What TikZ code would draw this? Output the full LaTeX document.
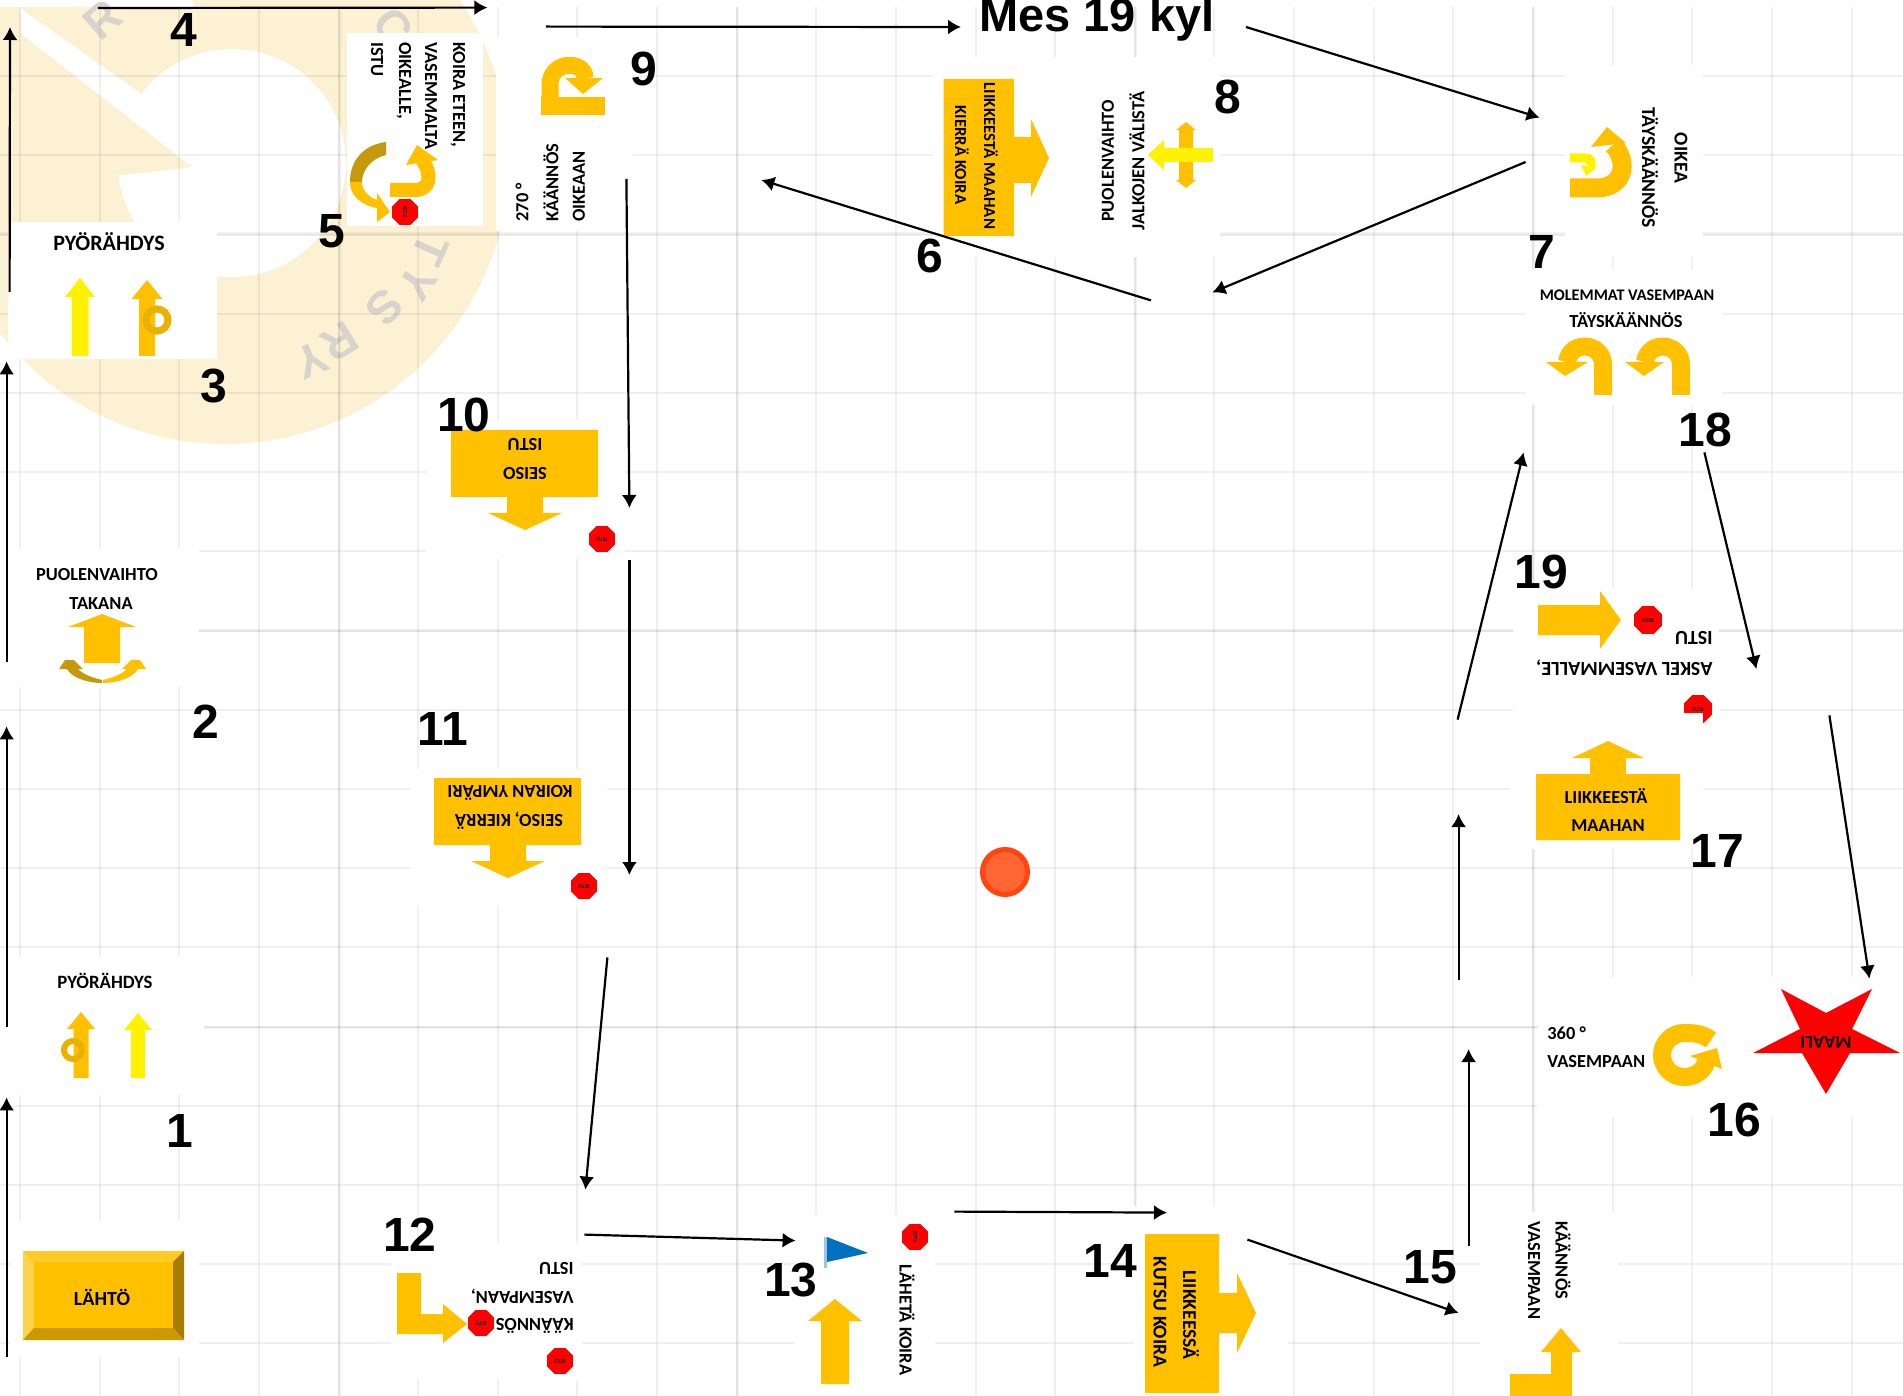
\documentclass[tikz,border=0pt]{standalone}
\usepackage{fontspec}
\setmainfont{Carlito}
\newfontfamily\numfont{Liberation Sans}
\usetikzlibrary{shapes,shapes.geometric,arrows,arrows.meta}
\definecolor{amber}{HTML}{FFC000}
\definecolor{darkamber}{HTML}{C49A0C}
\definecolor{pale}{HTML}{FCF1D3}
\definecolor{stamp}{HTML}{D8D4CC}
\definecolor{dotfill}{HTML}{FF6633}
\definecolor{dotline}{HTML}{FF4510}
\definecolor{flag}{HTML}{0070C0}
\tikzstyle{panel} = [rectangle, fill=white, inner sep=0, minimum width=#1]
\tikzstyle{caption} = [inner sep=0, font=\bfseries\fontsize{#1}{#1}\selectfont]
\tikzset{caption/.default=9.2}
\tikzstyle{numeral} = [inner sep=0, font=\numfont\bfseries\fontsize{24}{24}\selectfont]
\tikzstyle{stampmark} = [inner sep=0, text=stamp, font=\numfont\bfseries\fontsize{23}{23}\selectfont]
\tikzstyle{arrow} = [draw, -{Latex[length=6.5pt,width=7.5pt]}, line width=1.1pt]
\tikzstyle{stopsign} = [regular polygon, regular polygon sides=8, fill=red, inner sep=0,
    minimum size=14pt, font=\bfseries\fontsize{3}{3}\selectfont]
\tikzstyle{gridline} = [black, opacity=0.06, line width=1pt]
\tikzstyle{gridheavy} = [black, opacity=0.05, line width=1.5pt]
\tikzstyle{uturn} = [amber, line width=9pt]
\begin{document}
\begin{tikzpicture}[x=0.5pt,y=-0.5pt]
    \useasboundingbox (0,0) rectangle (1903,1396);

    % Watermark
    \fill [pale] (225,160) circle [radius=142pt];
    \fill [white] (232,163) circle [radius=57pt];
    \fill [white] (20,8) -- (143,95) -- (192,167) -- (22,35) -- cycle;
    \fill [pale] (22,35) -- (192,167) -- (123,175) -- (60,175) -- cycle;
    \fill [white] (0,0) rectangle (193,7);
    \node [stampmark, rotate=41] (markr) at (103,20) {R};
    \node [stampmark, rotate=-52] (markc) at (393,27) {C};
    \node [stampmark, rotate=-114] (markt) at (430,250) {T};
    \node [stampmark, rotate=-123] (marky) at (417,283) {Y};
    \node [stampmark, rotate=-133] (marks) at (385,308) {S};
    \node [stampmark, rotate=-148] (markrr) at (340,342) {R};
    \node [stampmark, rotate=-157] (markyy) at (312,360) {Y};

    % Grid
    \foreach \i in {0,...,23}
        \draw [gridline] ({20+79.63*\i},7) -- ({20+79.63*\i},1396);
    \foreach \i in {1,...,17}
        \draw [gridline] (0,{-3+79.2*\i}) -- (1903,{-3+79.2*\i});
    \foreach \i in {339,737,1135,1533}
        \draw [gridheavy] (\i,7) -- (\i,1396);
    \foreach \i in {234,630,1027}
        \draw [gridheavy] (0,\i) -- (1903,\i);

    % Place panels
    \node [panel=94.5pt, minimum height=68.5pt] (start) at (104.5,1288.5) {};
    \node [panel=102pt, minimum height=69.5pt] (spin1) at (102,1025.5) {};
    \node [panel=99.5pt, minimum height=69.5pt] (swap2) at (99.5,617.5) {};
    \node [panel=104.5pt, minimum height=68.5pt] (spin3) at (112.5,290.5) {};
    \node [panel=68pt, minimum height=96.5pt] (ahead5) at (415,129.5) {};
    \node [panel=68.5pt, minimum height=97pt] (turn9) at (564.5,134) {};
    \node [panel=73pt, minimum height=100pt] (down6) at (1006,157) {};
    \node [panel=70.5pt, minimum height=100pt] (swap8) at (1149.5,157) {};
    \node [panel=69pt, minimum height=96pt] (uturn7) at (1634,161) {};
    \node [panel=98pt, minimum height=67.5pt] (both18) at (1624,337.5) {};
    \node [panel=103pt, minimum height=66pt] (step19) at (1616,654) {};
    \node [panel=182.5pt, minimum height=70pt] (end16) at (1720.5,1047) {};
    \node [panel=69pt, minimum height=92pt] (turn15) at (1549,1304) {};
    \node [panel=77pt, minimum height=95pt] (call14) at (1211,1301) {};
    \node [panel=70pt, minimum height=90.5pt] (send13) at (865,1305.5) {};
    \node [panel=95.5pt, minimum height=68.5pt] (turn12) at (486.5,1311.5) {};
    \node [panel=98pt, minimum height=68.5pt] (stand11) at (509,837.5) {};
    \node [panel=99.5pt, minimum height=69.5pt] (stand10) at (525.5,489.5) {};
    \node [stopsign, minimum size=15pt, rotate=180] (stop19b) at (1698,709) {ISTU};
    \node [panel=96.5pt, minimum height=68pt] (down17) at (1606.5,781) {};
    \node [circle, fill=dotfill, draw=dotline, line width=2.5pt, inner sep=0,
        minimum size=22.5pt] (dot) at (1005,872) {};

    % Start
    \fill [amber] (23,1251) rectangle (184,1340);
    \fill [amber!70!white] (23,1251) -- (34,1262) -- (34,1328) -- (23,1340) -- cycle;
    \fill [amber!85!white] (23,1251) -- (184,1251) -- (173,1262) -- (34,1262) -- cycle;
    \fill [amber!65!black] (184,1251) -- (184,1340) -- (173,1328) -- (173,1262) -- cycle;
    \fill [amber!80!black] (23,1340) -- (184,1340) -- (173,1328) -- (34,1328) -- cycle;
    \node [caption=10] (cap0) at (102,1297) {LÄHTÖ};

    % 1
    \node [caption=9.4] (cap1) at (105,981) {PYÖRÄHDYS};
    \fill [amber] (73.5,1078) -- (73.5,1029) -- (67,1029) -- (81,1012) -- (95,1029) -- (88.5,1029) -- (88.5,1078) -- cycle;
    \draw [amber!92!black, line width=3pt] (73,1050) circle [radius=4.5pt];
    \fill [yellow] (131,1078) -- (131,1030) -- (124,1030) -- (138,1013) -- (152,1030) -- (145,1030) -- (145,1078) -- cycle;

    % 2
    \node [caption] (cap2a) at (97,575) {PUOLENVAIHTO};
    \node [caption] (cap2b) at (101,604) {TAKANA};
    \fill [amber] (84,663) -- (84,627) -- (68,627) -- (102,614) -- (136,627) -- (120,627) -- (120,663) -- cycle;
    \fill [darkamber] (65,660) -- (74,660) -- (83,669) -- (78,669) .. controls (84,675) and (94,678) .. (102,680)
        -- (102,683) .. controls (88,683) and (72,678) .. (67,669) -- (59,669) -- cycle;
    \fill [amber] (140,660) -- (131,660) -- (122,669) -- (127,669) .. controls (121,675) and (111,678) .. (103,680)
        -- (103,683) .. controls (117,683) and (133,678) .. (138,669) -- (146,669) -- cycle;

    % 3
    \node [caption=11] (cap3) at (109,242) {PYÖRÄHDYS};
    \fill [yellow] (71.5,356) -- (71.5,297) -- (65,297) -- (80,278) -- (95,297) -- (88.5,297) -- (88.5,356) -- cycle;
    \fill [amber] (139,356) -- (139,299) -- (131.5,299) -- (147,280) -- (162.5,299) -- (155,299) -- (155,356) -- cycle;
    \draw [amber!92!black, line width=3.5pt] (157,320) circle [radius=5.5pt];

    % 5
    \node [caption, rotate=-90, anchor=west] (cap5a) at (458,42) {KOIRA ETEEN,};
    \node [caption, rotate=-90, anchor=west] (cap5b) at (431,42) {VASEMMALTA};
    \node [caption, rotate=-90, anchor=west] (cap5c) at (404,42) {OIKEALLE,};
    \node [caption, rotate=-90, anchor=west] (cap5d) at (377,42) {ISTU};
    \fill [darkamber] (386,142) .. controls (362,145) and (350,162) .. (350,182) -- (362,182)
        .. controls (362,170) and (372,158) .. (386,155) -- cycle;
    \fill [amber] (350,182) .. controls (350,195) and (360,205) .. (377,208) -- (377,222) -- (390,212) -- (377,193)
        -- (377,200) .. controls (368,197) and (362,190) .. (362,182) -- cycle;
    \draw [amber, line width=7pt] (390,190) -- (415,190) .. controls (430,190) and (433,175) .. (422,160);
    \fill [amber] (417,145) -- (406,165) -- (438,160) -- cycle;
    \node [stopsign, minimum size=14pt, rotate=-90] (stop5) at (405,212) {ISTU};

    % 9
    \fill [amber] (541,97) rectangle (605,115);
    \draw [amber, line width=8.5pt] (550,115) -- (550,85) .. controls (550,60) and (585,60) .. (585,78);
    \fill [amber] (565,78) -- (603,78) -- (583,94) -- cycle;
    \node [caption, rotate=90, anchor=west] (cap9a) at (522,222) {270 °};
    \node [caption, rotate=90, anchor=west] (cap9b) at (551,222) {KÄÄNNÖS};
    \node [caption, rotate=90, anchor=west] (cap9c) at (579,222) {OIKEAAN};

    % 6
    \fill [amber] (943.5,79) -- (1014,79) -- (1014,137) -- (1031,137) -- (1031,119) -- (1049,158) -- (1031,197)
        -- (1031,183) -- (1014,183) -- (1014,236) -- (943.5,236) -- cycle;
    \node [caption=8.4, rotate=-90] (cap6a) at (991,156) {LIIKKEESTÄ MAAHAN};
    \node [caption=8.4, rotate=-90] (cap6b) at (962,155) {KIERRÄ KOIRA};

    % 8
    \node [caption, rotate=90] (cap8a) at (1108,161) {PUOLENVAIHTO};
    \node [caption, rotate=90] (cap8b) at (1137,161) {JALKOJEN VÄLISTÄ};
    \fill [amber] (1179,130) -- (1176,130) -- (1186,122) -- (1196,130) -- (1193,130) -- (1193,180) -- (1196,180)
        -- (1186,188) -- (1176,180) -- (1179,180) -- cycle;
    \fill [yellow] (1213,148) -- (1164,148) -- (1164,140) -- (1148,155) -- (1164,170) -- (1164,162) -- (1213,162) -- cycle;

    % 7
    \node [caption=9.8, rotate=-90] (cap7a) at (1681,158) {OIKEA};
    \node [caption=9.8, rotate=-90] (cap7b) at (1650,168) {TÄYSKÄÄNNÖS};
    \draw [amber, line width=9.5pt] (1570,188) -- (1596,188) .. controls (1626,188) and (1628,160) .. (1613,145);
    \fill [amber] (1607,127) -- (1591,147) -- (1626,143) -- cycle;
    \draw [yellow, line width=4.5pt] (1570,158) -- (1585,158) .. controls (1592,158) and (1592,163) .. (1590,166);
    \fill [yellow] (1581,165) -- (1597,167) -- (1586,176) -- cycle;

    % 18
    \node [caption=8.1] (cap18a) at (1627,295) {MOLEMMAT VASEMPAAN};
    \node [caption] (cap18b) at (1626,320) {TÄYSKÄÄNNÖS};
    \draw [uturn] (1603,395) -- (1603,365) .. controls (1603,342) and (1570,340) .. (1567,362);
    \fill [amber] (1546,362) -- (1588,362) -- (1565,376) -- cycle;
    \draw [uturn] (1681,395) -- (1681,365) .. controls (1681,342) and (1648,340) .. (1645,362);
    \fill [amber] (1625,362) -- (1664,362) -- (1644,376) -- cycle;

    % 19
    \fill [amber] (1538,605) -- (1600,605) -- (1600,591) -- (1621,620) -- (1600,649) -- (1600,635) -- (1538,635) -- cycle;
    \node [stopsign, minimum size=15pt, rotate=180] (stop19a) at (1648,620) {ISTU};
    \node [caption=10, rotate=180, anchor=west] (cap19a) at (1713,638) {ISTU};
    \node [caption=10, rotate=180, anchor=west] (cap19b) at (1713,668) {ASKEL VASEMMALLE,};

    % 17
    \fill [amber] (1536,840) -- (1536,774) -- (1590,774) -- (1590,758) -- (1572,758) -- (1608,741) -- (1644,758)
        -- (1626,758) -- (1626,774) -- (1680,774) -- (1680,840) -- cycle;
    \node [caption] (cap17a) at (1606,796) {LIIKKEESTÄ};
    \node [caption] (cap17b) at (1608,826) {MAAHAN};

    % 16
    \node [caption, anchor=west] (cap16a) at (1547,1033) {360 °};
    \node [caption, anchor=west] (cap16b) at (1547,1062) {VASEMPAAN};
    \draw [amber, line width=9pt] (1711,1040) .. controls (1702,1033) and (1692,1033) .. (1684,1033)
        .. controls (1672,1033) and (1662,1043) .. (1662,1055) .. controls (1662,1067) and (1672,1077) .. (1684,1077)
        .. controls (1696,1077) and (1704,1070) .. (1706,1062);
    \fill [amber] (1690,1056) -- (1717,1048) -- (1722,1069) -- cycle;
    \fill [red] (1781,989) -- (1826,1013) -- (1872,989) -- (1852,1029) -- (1900,1053) -- (1850,1053) -- (1826,1094)
        -- (1802,1053) -- (1753,1053) -- (1800,1029) -- cycle;
    \node [caption, rotate=180] (cap16c) at (1826,1042) {MAALI};

    % 15
    \node [caption, rotate=-90, anchor=west] (cap15a) at (1563,1221) {KÄÄNNÖS};
    \node [caption, rotate=-90, anchor=west] (cap15b) at (1534,1221) {VASEMPAAN};
    \fill [amber] (1510,1396) -- (1510,1374) -- (1551,1374) -- (1551,1352) -- (1541,1352) -- (1561,1328) -- (1581,1352)
        -- (1572,1352) -- (1572,1396) -- cycle;

    % 14
    \fill [amber] (1145,1234) -- (1219,1234) -- (1219,1293) -- (1237,1293) -- (1237,1273) -- (1256,1313) -- (1237,1353)
        -- (1237,1333) -- (1219,1333) -- (1219,1393) -- (1145,1393) -- cycle;
    \node [caption=9.8, rotate=-90] (cap14a) at (1191,1315) {LIIKKEESSÄ};
    \node [caption=9.8, rotate=-90] (cap14b) at (1160,1312) {KUTSU KOIRA};

    % 13
    \fill [flag!40!white] (824,1237) rectangle (827,1268);
    \fill [flag] (827,1237) -- (868,1253) -- (827,1262) -- cycle;
    \fill [amber] (821,1384) -- (821,1321) -- (808,1321) -- (835,1299) -- (862,1321) -- (849,1321) -- (849,1384) -- cycle;
    \node [stopsign, minimum size=14pt, rotate=-90] (stop13) at (915,1237) {ISTU};
    \node [caption, rotate=-90] (cap13) at (907,1320) {LÄHETÄ KOIRA};

    % 12
    \fill [amber] (397,1273) -- (421,1273) -- (421,1314) -- (443,1314) -- (443,1304) -- (467,1324) -- (443,1343)
        -- (443,1334) -- (397,1334) -- cycle;
    \node [stopsign, rotate=180] (stop12a) at (481,1323) {ISTU};
    \node [stopsign, rotate=180] (stop12b) at (560,1361) {ISTU};
    \node [caption, rotate=180, anchor=west] (cap12a) at (574,1268) {ISTU};
    \node [caption, rotate=180, anchor=west] (cap12b) at (574,1296) {VASEMPAAN,};
    \node [caption, rotate=180, anchor=west] (cap12c) at (574,1326) {KÄÄNNÖS};

    % 11
    \fill [amber] (434,778) -- (581,778) -- (581,845) -- (526,845) -- (526,861) -- (545,861) -- (508,878) -- (471,861)
        -- (490,861) -- (490,845) -- (434,845) -- cycle;
    \node [caption, rotate=180] (cap11a) at (510,793) {KOIRAN YMPÄRI};
    \node [caption, rotate=180] (cap11b) at (509,821) {SEISO, KIERRÄ};
    \node [stopsign, rotate=180] (stop11) at (584,886) {ISTU};

    % 10
    \fill [amber] (451,430) -- (598,430) -- (598,497) -- (543,497) -- (543,513) -- (562,513) -- (525,530) -- (488,513)
        -- (507,513) -- (507,497) -- (451,497) -- cycle;
    \node [caption, rotate=180] (cap10a) at (525,444) {ISTU};
    \node [caption, rotate=180] (cap10b) at (525,473) {SEISO};
    \node [stopsign, rotate=180] (stop10) at (602,539) {ISTU};

    % Numbers
    \node [numeral] (num1) at (180,1131) {1};
    \node [numeral] (num2) at (206,722) {2};
    \node [numeral] (num3) at (214,386) {3};
    \node [numeral] (num4) at (184,30) {4};
    \node [numeral] (num5) at (332,231) {5};
    \node [numeral] (num6) at (930,256) {6};
    \node [numeral] (num7) at (1542,252) {7};
    \node [numeral] (num8) at (1228,97) {8};
    \node [numeral] (num9) at (644,69) {9};
    \node [numeral] (num10) at (464,415) {10};
    \node [numeral] (num11) at (443,729) {11};
    \node [numeral] (num12) at (410,1235) {12};
    \node [numeral] (num13) at (791,1280) {13};
    \node [numeral] (num14) at (1110,1261) {14};
    \node [numeral] (num15) at (1430,1267) {15};
    \node [numeral] (num16) at (1734,1120) {16};
    \node [numeral] (num17) at (1717,851) {17};
    \node [numeral] (num18) at (1705,430) {18};
    \node [numeral] (num19) at (1541,572) {19};
    \node [numeral, font=\numfont\bfseries\fontsize{23.5}{23.5}\selectfont] (title) at (1097,19) {Mes 19 kyl};
    \coordinate (corner) at (10,27);
    \coordinate (topstart) at (98,8);

    % Draw edges
    \path [arrow] ([shift={(-3,0)}] start.south west) -- ([shift={(7,2)}] spin1.south west);
    \path [arrow] ([shift={(7,71)}] spin1.north west) -- ([shift={(7,39)}] swap2.south west);
    \path [arrow] ([shift={(7,-25)}] swap2.south west) -- ([shift={(-1,2)}] spin3.south west);
    \path [arrow] ([shift={(2,1.5)}] spin3.west) -- (corner);
    \path [arrow] (topstart) -- ([shift={(4,-25)}] ahead5.north east);
    \path [arrow] ([shift={(-18.5,-10)}] turn9.north) -- ([shift={(-18,8)}] title.west);
    \path [arrow] ([shift={(31,8)}] title.east) -- ([shift={(-25,53)}] uturn7.north west);
    \path [arrow] ([shift={(-39,1)}] uturn7.west) -- ([shift={(-8,35)}] swap8.south east);
    \path [arrow] ([shift={(1.5,43)}] swap8.south) -- ([shift={(128,46)}] turn9.east);
    \path [arrow] ([shift={(-7,45)}] turn9.east) -- ([shift={(4,18.5)}] stand10.east);
    \path [arrow] ([shift={(4,1)}] stand10.south east) -- ([shift={(22,37.5)}] stand11.east);
    \path [arrow] ([shift={(0,51)}] stand11.south east) -- ([shift={(3,-53)}] turn12.north east);
    \path [arrow] ([shift={(2,-8)}] turn12.north east) -- ([shift={(1,26)}] send13.north west);
    \path [arrow] ([shift={(19,-3)}] send13.north east) -- ([shift={(-44,7)}] call14.north);
    \path [arrow] ([shift={(-41,34)}] call14.north east) -- ([shift={(-21,9)}] turn15.west);
    \path [arrow] ([shift={(-11,34)}] turn15.north west) -- ([shift={(-69,2)}] end16.west);
    \path [arrow] ([shift={(-79,3)}] end16.north west) -- ([shift={(-51,33)}] down17.west);
    \path [arrow] ([shift={(-52,7)}] down17.north west) -- ([shift={(-2,47)}] both18.south west);
    \path [arrow] ([shift={(-18,47)}] both18.south east) -- ([shift={(37,15)}] step19.east);
    \path [arrow] ([shift={(110,-5)}] step19.south east) -- ([shift={(-34,2)}] end16.north east);

\end{tikzpicture}
\end{document}
